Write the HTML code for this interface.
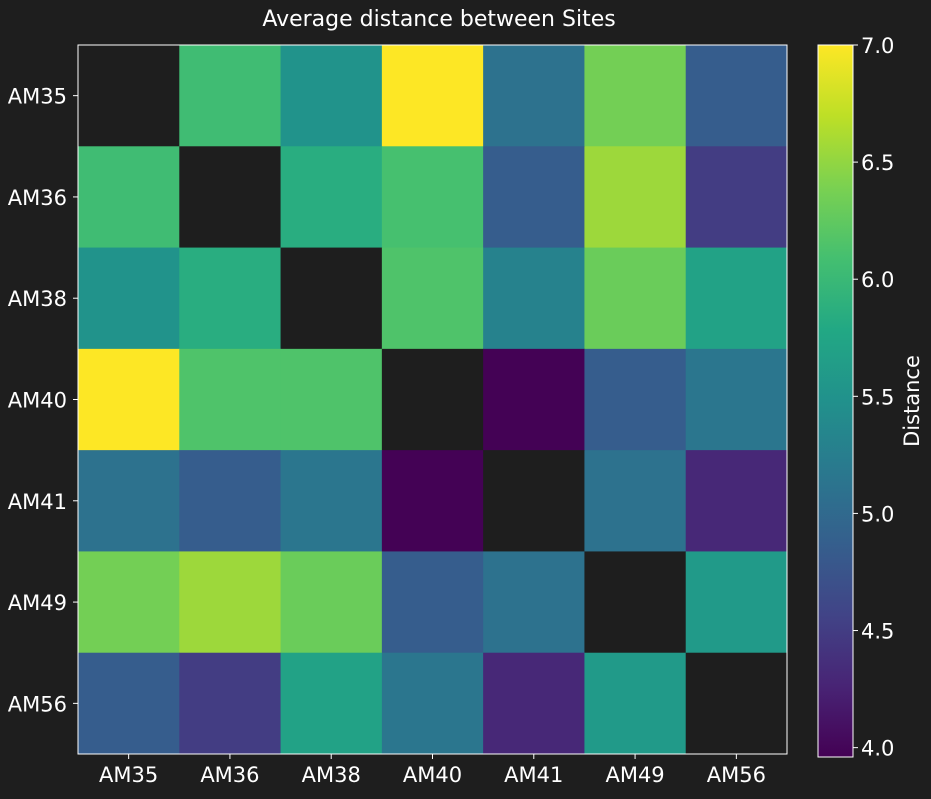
<!DOCTYPE html>
<html><head><meta charset="utf-8">
<style>
html,body{margin:0;padding:0;background:#1e1e1e;}
svg text{font-family:"DejaVu Sans","Liberation Sans",sans-serif;fill:#fff;}
</style></head>
<body>
<svg id="chart" width="931" height="794" xmlns="http://www.w3.org/2000/svg">
<rect width="931" height="794" fill="#1e1e1e"/>
<text x="439" y="26" font-size="22" text-anchor="middle">Average distance between Sites</text>
<g id="cells"></g>
<g id="xt"></g><g id="yt"></g>
<defs><linearGradient id="vir" x1="0" y1="1" x2="0" y2="0"></linearGradient></defs>
<g id="cbar"></g>
</svg>
<script>
const sites = ["AM35","AM36","AM38","AM40","AM41","AM49","AM56"];
const row0 = [null,6.05,5.5,7.0,5.1,6.35,4.85];
const row1 = [6.05,null,5.85,6.1,4.85,6.55,4.5];
const row2 = [5.5,5.85,null,6.15,5.3,6.3,5.7];
const row3 = [7.0,6.15,6.15,null,3.97,4.85,5.15];
const row4 = [5.1,4.85,5.15,3.97,null,5.1,4.3];
const row5 = [6.35,6.55,6.3,4.85,5.1,null,5.6];
const row6 = [4.85,4.5,5.7,5.15,4.3,5.6,null];
const values = [row0,row1,row2,row3,row4,row5,row6];
const cbTicks = [4.0,4.5,5.0,5.5,6.0,6.5,7.0];
const vmin = 3.96, vmax = 7.0;

const NS="http://www.w3.org/2000/svg";
const stops=[[0,[68,1,84]],[0.1,[72,36,117]],[0.2,[65,68,135]],[0.3,[53,95,141]],[0.4,[42,120,142]],[0.5,[33,145,140]],[0.6,[34,168,132]],[0.7,[68,191,112]],[0.8,[122,209,81]],[0.9,[189,223,38]],[1,[253,231,37]]];
function viridis(t){t=Math.max(0,Math.min(1,t));for(let i=1;i<stops.length;i++){if(t<=stops[i][0]){const a=stops[i-1],b=stops[i];const f=(t-a[0])/(b[0]-a[0]);const c=a[1].map((v,k)=>Math.round(v+(b[1][k]-v)*f));return `rgb(${c[0]},${c[1]},${c[2]})`;}}return "rgb(253,231,37)";}
const X0=78,Y0=45,W=709,H=709,n=sites.length,cw=W/n,ch=H/n;
const xS=i=>X0+i*cw, yS=j=>Y0+j*ch;
function mk(tag,attrs,parent){const e=document.createElementNS(NS,tag);for(const k in attrs)e.setAttribute(k,attrs[k]);parent.appendChild(e);return e;}
const cells=document.getElementById('cells');
values.forEach((row,j)=>row.forEach((v,i)=>{
  const r=mk('rect',{x:xS(i),y:yS(j),width:cw+0.5,height:ch+0.5,fill:v==null?'#1e1e1e':viridis((v-vmin)/(vmax-vmin))},cells);
  
  
}));
const frame=mk('rect',{x:X0,y:Y0,width:W,height:H,fill:'none',stroke:'#fff','stroke-width':1},cells);


const xt=document.getElementById('xt'),yt=document.getElementById('yt');
sites.forEach((s,i)=>{
  mk('line',{x1:xS(i)+cw/2,x2:xS(i)+cw/2,y1:Y0+H,y2:Y0+H+5,stroke:'#fff'},xt);
  const t=mk('text',{x:xS(i)+cw/2,y:Y0+H+28,'font-size':21,'text-anchor':'middle'},xt);t.textContent=s;
  
  
  mk('line',{x1:X0-5,x2:X0,y1:yS(i)+ch/2,y2:yS(i)+ch/2,stroke:'#fff'},yt);
  const u=mk('text',{x:X0-11,y:yS(i)+ch/2+8,'font-size':21,'text-anchor':'end'},yt);u.textContent=s;
  
  
});
const grad=document.getElementById('vir');
stops.forEach(s=>mk('stop',{offset:s[0],'stop-color':`rgb(${s[1].join(',')})`},grad));
const cb=document.getElementById('cbar');
const CX=818,CW=35,CY0=45,CH=712;
const cy=v=>CY0+CH-(v-vmin)/(vmax-vmin)*CH;
const bar=mk('rect',{x:CX,y:CY0,width:CW,height:CH,fill:'url(#vir)',stroke:'#fff','stroke-width':1},cb);


cbTicks.forEach(v=>{
  mk('line',{x1:CX+CW,x2:CX+CW+5,y1:cy(v),y2:cy(v),stroke:'#fff'},cb);
  const t=mk('text',{x:CX+CW+8,y:cy(v)+8,'font-size':21},cb);t.textContent=v.toFixed(1);
  
  
});
const lab=mk('text',{x:919,y:401,'font-size':21,'text-anchor':'middle',transform:'rotate(-90 919 401)'},cb);lab.textContent='Distance';


</script>
</body></html>
